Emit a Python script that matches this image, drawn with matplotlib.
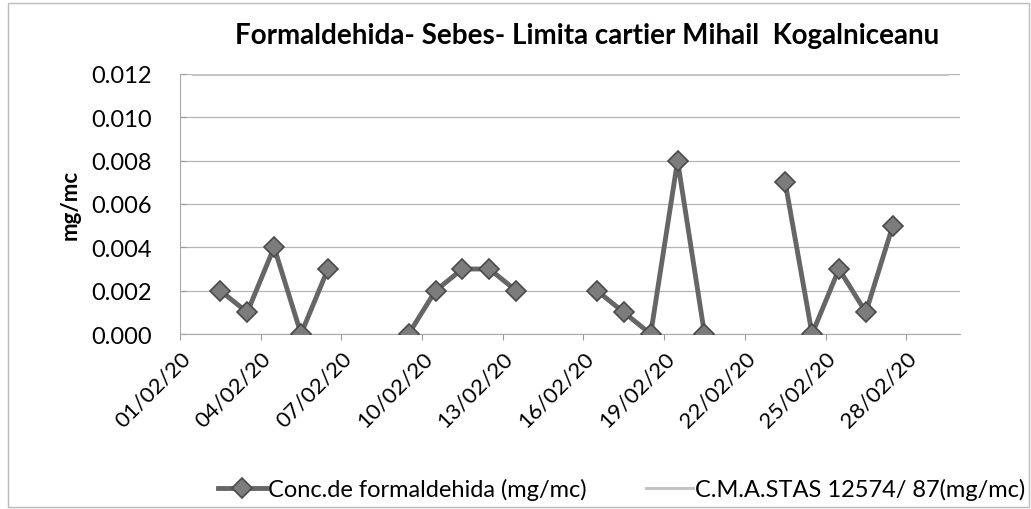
import numpy as np
import matplotlib
matplotlib.use("Agg")
import matplotlib.pyplot as plt
from matplotlib.patches import Rectangle

# zilele lunii februarie 2020 si concentratiile citite (NaN = fara masuratoare)
zile = np.arange(1, 30)
conc = [np.nan, 0.002, 0.001, 0.004, 0.000, 0.003, np.nan, np.nan,
        0.000, 0.002, 0.003, 0.003, 0.002, np.nan, np.nan,
        0.002, 0.001, 0.000, 0.008, 0.000, np.nan, np.nan,
        0.007, 0.000, 0.003, 0.001, 0.005, np.nan, np.nan]
cma = [0.012] * len(zile)
zile_ticks = [1, 4, 7, 10, 13, 16, 19, 22, 25, 28]
etichete_x = [f"{d:02d}/02/20" for d in zile_ticks]
y_ticks = [0.000, 0.002, 0.004, 0.006, 0.008, 0.010, 0.012]

plt.rcParams["font.family"] = ["Lato", "DejaVu Sans"]

fig = plt.figure(figsize=(10.31, 5.10), dpi=100)
ax = fig.add_axes([180/1031, 1-335/510, 780/1031, 260/510])

ax.plot(zile, cma, color="#c4c4c4", lw=2.2, label="C.M.A.STAS 12574/ 87(mg/mc)", zorder=2)
ax.plot(zile, conc, color="#666666", lw=3.5, marker="D", ms=10,
        mfc="#7c7c7c", mec="#4a4a4a", mew=1.2,
        label="Conc.de formaldehida (mg/mc)", zorder=3)

ax.set_xlim(0.5, 29.5)
ax.set_ylim(0, 0.012)
ax.set_yticks(y_ticks)
ax.set_yticklabels([f"{v:.3f}" for v in y_ticks], fontsize=17)
ax.set_xticks([d - 0.5 for d in zile_ticks])
ax.set_xticklabels(etichete_x, rotation=45, ha="right", rotation_mode="anchor", fontsize=16)
ax.tick_params(axis="x", length=4, color="#999999", pad=6)
ax.tick_params(axis="y", length=4, color="#999999", direction="in", pad=20)
ax.yaxis.grid(True, color="#b5b5b5", lw=0.9)
ax.set_axisbelow(True)
for s in ["top", "right"]:
    ax.spines[s].set_visible(False)
ax.spines["left"].set_color("#aaaaaa")
ax.spines["bottom"].set_color("#aaaaaa")

ax.set_ylabel("mg/mc", fontsize=16, fontweight="bold", labelpad=8)
fig.text(587/1031, 1-36/510, "Formaldehida- Sebes- Limita cartier Mihail  Kogalniceanu",
         ha="center", va="center", fontsize=20, fontweight="bold")

h, l = ax.get_legend_handles_labels()
fig.legend(h[::-1], l[::-1], loc="center", bbox_to_anchor=(622/1031, 1-490/510),
           ncol=2, frameon=False, fontsize=17, handlelength=2.0, columnspacing=2.5,
           handletextpad=0.1)

fig.patches.append(Rectangle((0.008, 0.003), 0.99, 0.99, transform=fig.transFigure,
                             fill=False, ec="#bbbbbb", lw=1))

fig.savefig("out.png", dpi=100)
